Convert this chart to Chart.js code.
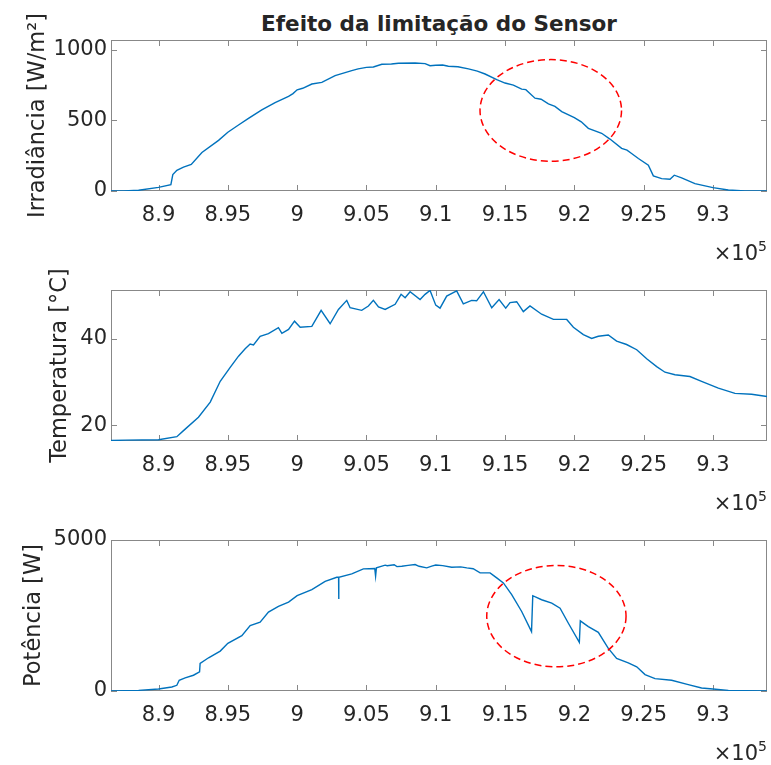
<!DOCTYPE html>
<html>
<head>
<meta charset="utf-8">
<script src="https://cdn.jsdelivr.net/npm/chart.js@4.4.1/dist/chart.umd.min.js"></script>
<style>
  body { margin: 0; background: #fff; }
  #fig { position: relative; width: 771px; height: 765px; font-family: "DejaVu Sans", sans-serif; color: #262626; overflow: hidden; }
  #fig canvas { position: absolute; left: 0; }
  .title { position: absolute; top: 9px; left: 111px; width: 656px; text-align: center; font-weight: bold; font-size: 21.5px; line-height: 30px; white-space: nowrap; }
  .exp { position: absolute; right: 4px; font-size: 21px; line-height: 24px; white-space: nowrap; }
  .exp span { font-size: 14px; position: relative; top: -9px; }
</style>
</head>
<body>
<div id="fig">
  <div class="title">Efeito da limitação do Sensor</div>
  <canvas id="irrChart" width="771" height="250" style="top:0"></canvas>
  <canvas id="tempChart" width="771" height="250" style="top:250px"></canvas>
  <canvas id="powChart" width="771" height="250" style="top:500px"></canvas>
  <div class="exp" style="top:241px">×10<span>5</span></div>
  <div class="exp" style="top:491px">×10<span>5</span></div>
  <div class="exp" style="top:741px">×10<span>5</span></div>
</div>
<script>
// eixo x comum (amostras)
const xMin = 886570;
const xMax = 933900;
const xTicks = [890000, 895000, 900000, 905000, 910000, 915000, 920000, 925000, 930000];
const xTickLabels = ['8.9', '8.95', '9', '9.05', '9.1', '9.15', '9.2', '9.25', '9.3'];

// Irradiância [W/m2]
const irrX = [886570, 887500, 888560, 890000, 890890, 891030, 891320, 891800, 892360, 893130, 894330, 895000, 895770, 896490,
  897450, 898410, 899380, 899700, 900000, 900400, 901060, 901780, 902740, 903940, 904400, 905000, 905500, 906110, 906800,
  907310, 908510, 909230, 909590, 910000, 910500, 910910, 911600, 912360, 913000, 913560, 914400, 915000, 915600, 916200,
  916500, 917160, 917600, 918130, 918600, 919090, 920000, 920500, 921010, 921970, 922570, 923410, 923800, 924130,
  924620, 925340, 925700, 926300, 926900, 927210, 927740, 928700, 930000, 931110, 932310, 933900];
const irrY = [0, 1, 5, 26, 45, 116, 147, 169, 188, 273, 359, 416, 468, 515,
  575, 627, 670, 690, 717, 728, 758, 770, 817, 853, 865, 876, 879, 898, 900,
  905, 907, 903, 888, 891, 893, 884, 880, 865, 850, 829, 789, 765, 750, 722,
  718, 658, 650, 618, 600, 563, 520, 490, 444, 409, 368, 302, 290, 266,
  230, 183, 107, 88, 83, 112, 93, 52, 24, 7, 0, 0];
const irrTicks = [0, 500, 1000];

// Temperatura [°C]
const tempX = [886570, 887600, 890000, 891320, 891800, 892880, 893730, 894450, 895170, 895770, 896250, 896610, 896850,
  897330, 897930, 898650, 898900, 899380, 899810, 900220, 901060, 901730, 902380, 902980, 903580, 903820, 904660, 905140,
  905500, 905870, 906350, 907070, 907500, 907790, 908150, 908870, 909230, 909590, 910000, 910310, 910790, 911510, 911990,
  912590, 912950, 913440, 914040, 914570, 915050, 915360, 915840, 916320, 916800, 917640, 918490, 919450, 919930, 920650,
  921250, 921730, 922450, 923050, 923770, 924500, 925220, 925940, 926540, 927260, 928340, 929180, 930390, 931590, 932790,
  933900];
const tempY = [16.5, 16.6, 16.7, 17.4, 18.8, 21.9, 25.4, 30.2, 33.4, 36.0, 37.7, 38.8, 38.6,
  40.6, 41.2, 42.6, 41.3, 42.2, 44.1, 42.7, 42.9, 46.6, 43.5, 46.8, 48.9, 47.2, 46.6, 47.6,
  48.9, 47.4, 46.8, 48.0, 50.3, 49.5, 50.9, 49.1, 50.3, 51.2, 47.8, 47.1, 49.9, 51.1, 48.1,
  48.9, 48.8, 50.9, 47.2, 49.1, 47.1, 48.4, 48.6, 46.3, 47.6, 45.7, 44.5, 44.5, 42.7, 41.0,
  40.1, 40.6, 40.9, 39.5, 38.7, 37.5, 35.4, 33.6, 32.3, 31.7, 31.3, 30.2, 28.6, 27.4, 27.2,
  26.7];
const tempTicks = [20, 40];

// Potência [W]
const powX = [886570, 888560, 890000, 890960, 891320, 891490, 891920, 892520, 892960, 893000, 893610, 894450, 895000,
  896010, 896610, 897330, 897930, 898650, 899380, 900000, 901060, 902020, 902860, 902990, 903000, 903010, 903940, 904780,
  905600, 905660, 905720, 906350, 906500, 907000, 907200, 907550, 908000, 908510, 908800, 909350, 909710, 910000, 910500,
  911150, 911800, 912240, 912700, 913200, 913920, 914400, 914880,
  915480, 916200, 916910, 917000, 917640, 918370, 918970, 919570, 920360, 920430, 921010, 921730, 922450, 923050, 923890,
  924500, 925100, 925820, 927020, 928220, 929180, 930000, 931110, 932310, 933900];
const powY = [0, 22, 67, 133, 189, 356, 433, 522, 633, 911, 1100, 1322, 1578,
  1833, 2167, 2278, 2611, 2800, 2944, 3155, 3355, 3633, 3766, 3766, 3044, 3766, 3877, 4044,
  4055, 3800, 4080, 4166, 4150, 4180, 4120, 4133, 4160, 4189, 4130, 4078, 4133, 4170, 4150,
  4100, 4110, 4078, 4050, 3911, 3911, 3744, 3578,
  3189, 2633, 1967, 3155, 3022, 2911, 2744, 2244, 1611, 2322, 2133, 1944, 1411, 1078, 933,
  800, 544, 411, 355, 211, 100, 67, 22, 11, 0];
const powTicks = [0, 5000];

// destaques (elipses tracejadas) em unidades dos dados
const irrHighlight = { cx: 918300, cy: 571, rx: 5105, ry: 360 };
const powHighlight = { cx: 918705, cy: 2478, rx: 5025, ry: 1678 };

const FONT = '"DejaVu Sans", sans-serif';
const TEXT = '#262626';
const FRAME = '#888888';

// moldura estilo MATLAB com ticks para dentro
const framePlugin = {
  id: 'frame',
  beforeDatasetsDraw(chart) {
    const { ctx, chartArea: a, scales } = chart;
    const len = 6;
    ctx.save();
    ctx.strokeStyle = FRAME;
    ctx.lineWidth = 1;
    ctx.strokeRect(Math.round(a.left) + 0.5, Math.round(a.top) + 0.5,
      Math.round(a.right - a.left) - 1, Math.round(a.bottom - a.top) - 1);
    ctx.beginPath();
    scales.x.ticks.forEach(t => {
      const px = Math.round(scales.x.getPixelForValue(t.value)) + 0.5;
      ctx.moveTo(px, a.top); ctx.lineTo(px, a.top + len);
      ctx.moveTo(px, a.bottom); ctx.lineTo(px, a.bottom - len);
    });
    scales.y.ticks.forEach(t => {
      const py = Math.round(scales.y.getPixelForValue(t.value)) + 0.5;
      ctx.moveTo(a.left, py); ctx.lineTo(a.left + len, py);
      ctx.moveTo(a.right, py); ctx.lineTo(a.right - len, py);
    });
    ctx.stroke();
    ctx.restore();
  }
};

const ellipsePlugin = {
  id: 'ellipse',
  afterDatasetsDraw(chart, args, opts) {
    const e = opts.shape;
    if (!e) return;
    const { ctx, scales } = chart;
    const cx = scales.x.getPixelForValue(e.cx);
    const cy = scales.y.getPixelForValue(e.cy);
    const rx = Math.abs(scales.x.getPixelForValue(e.cx + e.rx) - cx);
    const ry = Math.abs(scales.y.getPixelForValue(e.cy + e.ry) - cy);
    ctx.save();
    ctx.strokeStyle = '#ff0000';
    ctx.lineWidth = 1.5;
    ctx.setLineDash([7, 4]);
    ctx.beginPath();
    ctx.ellipse(cx, cy, rx, ry, 0, 0, Math.PI * 2);
    ctx.stroke();
    ctx.restore();
  }
};

function makeChart(id, xs, ys, yMin, yMax, yTicks, yTitle, padLeft, highlight) {
  return new Chart(document.getElementById(id), {
    type: 'line',
    data: {
      datasets: [{
        data: xs.map((x, i) => ({ x: x, y: ys[i] })),
        borderColor: '#0072BD',
        borderWidth: 1.4,
        pointRadius: 0,
        tension: 0,
        fill: false
      }]
    },
    options: {
      responsive: false,
      animation: false,
      events: [],
      layout: { padding: { left: padLeft, top: 40, right: 4, bottom: 0 } },
      plugins: {
        legend: { display: false },
        tooltip: { enabled: false },
        ellipse: { shape: highlight }
      },
      scales: {
        x: {
          type: 'linear',
          min: xMin,
          max: xMax,
          grid: { display: false, drawTicks: false },
          border: { display: false },
          afterBuildTicks: s => { s.ticks = xTicks.map(v => ({ value: v })); },
          afterFit: s => { s.height = 59; },
          ticks: {
            autoSkip: false,
            maxRotation: 0,
            padding: 12,
            color: TEXT,
            font: { family: FONT, size: 21 },
            callback: (v) => xTickLabels[xTicks.indexOf(v)]
          }
        },
        y: {
          min: yMin,
          max: yMax,
          grid: { display: false, drawTicks: false },
          border: { display: false },
          afterBuildTicks: s => { s.ticks = yTicks.map(v => ({ value: v })); },
          afterFit: s => { s.width = 111 - padLeft; },
          ticks: {
            padding: 4,
            color: TEXT,
            font: { family: FONT, size: 21 },
            callback: (v) => String(v)
          },
          title: {
            display: true,
            text: yTitle,
            color: TEXT,
            padding: 0,
            font: { family: FONT, size: 22.5 }
          }
        }
      }
    },
    plugins: [framePlugin, ellipsePlugin]
  });
}

makeChart('irrChart', irrX, irrY, 0, 1070, irrTicks, 'Irradiância [W/m²]', 25, irrHighlight);
makeChart('tempChart', tempX, tempY, 16.4, 51.3, tempTicks, 'Temperatura [°C]', 47, null);
makeChart('powChart', powX, powY, 0, 5000, powTicks, 'Potência [W]', 21, powHighlight);
</script>
</body>
</html>
